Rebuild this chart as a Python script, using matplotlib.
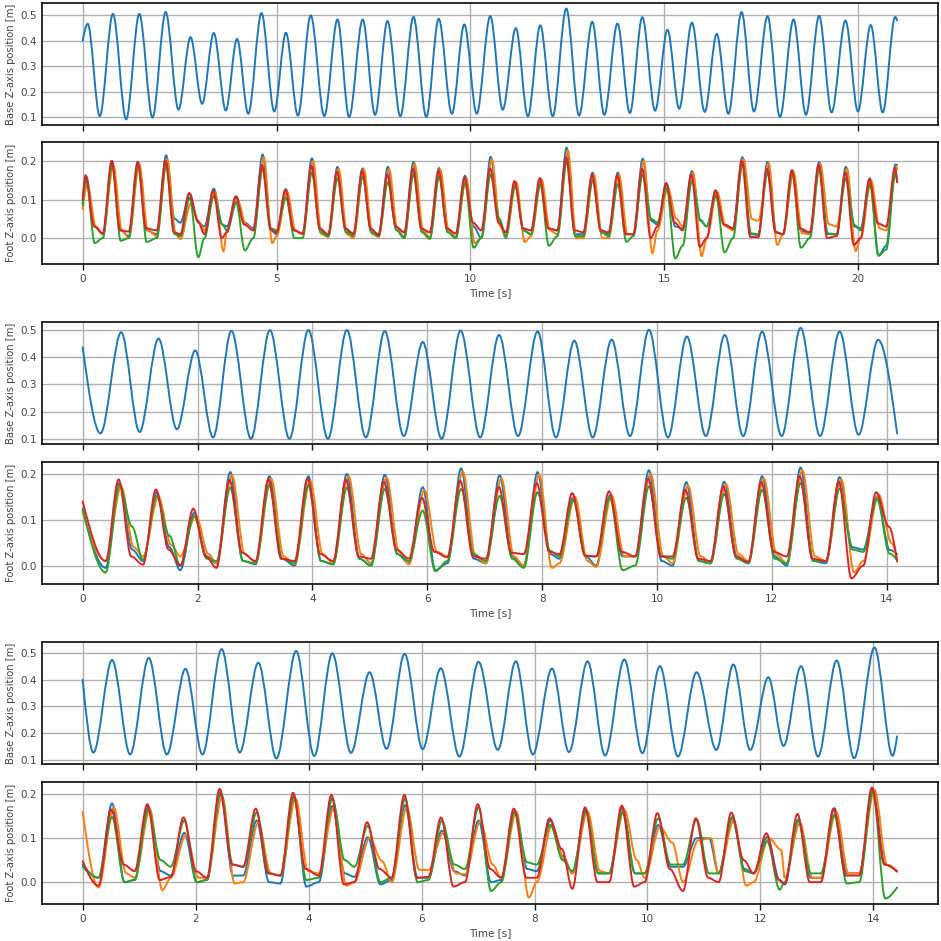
import matplotlib.pyplot as plt
from matplotlib.path import Path
from matplotlib.patches import PathPatch

# ---------------- run 1 (21 s) ----------------
# base height: alternating extrema (time, height)
base1_t = [0.0, 0.13, 0.44, 0.78, 1.12, 1.46, 1.80, 2.14, 2.47, 2.78, 3.08, 3.38, 3.69, 3.98, 4.27, 4.61,
           4.94, 5.24, 5.55, 5.88, 6.23, 6.57, 6.87, 7.22, 7.54, 7.86, 8.19, 8.53, 8.86, 9.18, 9.52, 9.84,
           10.16, 10.51, 10.83, 11.17, 11.48, 11.80, 12.12, 12.47, 12.80, 13.14, 13.45, 13.79, 14.11, 14.43,
           14.76, 15.08, 15.38, 15.71, 16.04, 16.35, 16.65, 16.99, 17.31, 17.66, 17.98, 18.33, 18.65, 18.99,
           19.31, 19.67, 19.99, 20.32, 20.63, 20.95, 21.0]
base1_z = [0.40, 0.466, 0.105, 0.505, 0.092, 0.505, 0.099, 0.512, 0.13, 0.414, 0.153, 0.43, 0.127, 0.407, 0.114,
           0.508, 0.123, 0.431, 0.107, 0.499, 0.105, 0.483, 0.101, 0.483, 0.11, 0.477, 0.104, 0.493, 0.101, 0.486,
           0.114, 0.464, 0.114, 0.496, 0.13, 0.449, 0.104, 0.46, 0.104, 0.526, 0.107, 0.474, 0.11, 0.467, 0.117,
           0.492, 0.126, 0.443, 0.134, 0.471, 0.121, 0.427, 0.114, 0.512, 0.123, 0.496, 0.101, 0.483, 0.11, 0.497,
           0.119, 0.479, 0.123, 0.461, 0.119, 0.493, 0.479]

# foot heights: swing peak times, and per foot the peak height, the level just after
# touchdown and the level just before lift-off
foot1_tp = [0.09, 0.76, 1.43, 2.15, 2.76, 3.38, 3.96, 4.64, 5.24, 5.91, 6.57, 7.22, 7.87, 8.53, 9.19, 9.86,
            10.52, 11.15, 11.80, 12.48, 13.15, 13.80, 14.44, 15.06, 15.71, 16.33, 17.01, 17.66, 18.30, 18.99,
            19.68, 20.30, 20.96]
foot1_end_t = 21.0
foot1_peak = {
    'b': [0.16, 0.20, 0.197, 0.215, 0.115, 0.128, 0.108, 0.217, 0.127, 0.207, 0.185, 0.181, 0.185, 0.198, 0.182,
          0.162, 0.211, 0.145, 0.155, 0.235, 0.17, 0.17, 0.206, 0.14, 0.174, 0.12, 0.21, 0.198, 0.176, 0.197,
          0.185, 0.155, 0.191],
    'o': [0.14, 0.19, 0.192, 0.205, 0.09, 0.12, 0.10, 0.21, 0.12, 0.20, 0.18, 0.178, 0.18, 0.193, 0.178, 0.155,
          0.205, 0.145, 0.152, 0.228, 0.165, 0.165, 0.2, 0.13, 0.17, 0.12, 0.205, 0.195, 0.172, 0.193, 0.18,
          0.15, 0.185],
    'g': [0.15, 0.19, 0.19, 0.19, 0.105, 0.108, 0.092, 0.18, 0.105, 0.17, 0.155, 0.16, 0.145, 0.165, 0.16, 0.143,
          0.165, 0.135, 0.14, 0.198, 0.15, 0.14, 0.165, 0.13, 0.148, 0.11, 0.195, 0.17, 0.168, 0.18, 0.155,
          0.14, 0.17],
    'r': [0.163, 0.20, 0.197, 0.20, 0.117, 0.123, 0.108, 0.19, 0.125, 0.188, 0.172, 0.175, 0.165, 0.18, 0.175,
          0.157, 0.181, 0.148, 0.155, 0.21, 0.165, 0.163, 0.18, 0.143, 0.165, 0.124, 0.2, 0.18, 0.176, 0.19,
          0.17, 0.153, 0.183],
}
foot1_after = {
    'b': [0.03, 0.02, 0.02, 0.05, 0.04, 0.035, 0.04, 0.02, 0.02, 0.02, 0.02, 0.02, 0.025, 0.02, 0.02, 0.03,
          0.05, 0.02, 0.025, 0.01, 0.02, 0.01, 0.045, 0.03, 0.045, 0.035, 0.01, 0.015, 0.02, 0.012, 0.03,
          -0.045, 0.1],
    'o': [0.03, 0.02, 0.02, 0.01, 0.04, -0.035, 0.035, -0.013, 0.02, 0.01, 0.01, 0.01, 0.02, 0.02, 0.02, -0.013,
          0.03, -0.01, 0.02, 0.0, 0.0, 0.01, -0.04, 0.05, -0.047, 0.03, 0.049, -0.018, 0.012, 0.036, -0.034,
          0.025, 0.1],
    'g': [-0.013, -0.007, -0.01, 0.01, -0.05, 0.035, -0.032, 0.025, 0.0, 0.015, 0.015, 0.015, 0.02, 0.015, 0.015,
          -0.025, 0.05, 0.02, -0.02, 0.005, 0.015, -0.01, 0.05, -0.053, 0.047, -0.037, 0.012, 0.015, -0.025, 0.01,
          0.034, -0.046, 0.1],
    'r': [0.03, 0.02, 0.025, 0.015, 0.045, 0.0, 0.035, 0.022, 0.02, 0.025, 0.025, 0.025, 0.03, 0.025, 0.025, 0.04,
          0.04, 0.025, 0.025, 0.02, 0.02, 0.01, 0.0, 0.04, -0.023, 0.035, 0.003, 0.015, 0.025, 0.0, -0.018,
          0.038, 0.1],
}
foot1_before = {
    'b': [0.0, 0.01, 0.005, 0.01, 0.04, 0.03, 0.03, 0.025, 0.01, 0.01, 0.005, 0.005, 0.01, 0.003, 0.0, 0.0, 0.0,
          0.0, 0.01, 0.02, 0.01, 0.01, 0.01, 0.035, 0.025, 0.03, 0.025, 0.008, 0.01, 0.01, 0.01, 0.025, -0.02],
    'o': [0.0, 0.01, 0.0, 0.005, -0.003, 0.02, 0.02, 0.02, 0.005, 0.01, 0.003, 0.0, 0.003, 0.0, 0.002, 0.003, 0.0,
          0.003, 0.005, 0.01, 0.0, 0.0, 0.01, 0.02, 0.03, 0.0, 0.02, 0.045, 0.01, 0.01, 0.03, 0.0, 0.02],
    'g': [0.0, 0.0, 0.0, 0.0, 0.005, 0.0, 0.02, 0.0, 0.02, 0.0, 0.005, 0.008, 0.005, 0.0, -0.002, 0.0, 0.0,
          0.005, 0.01, 0.005, 0.005, 0.005, 0.005, 0.04, -0.02, 0.03, 0.0, 0.01, 0.01, 0.0, 0.01, 0.02, -0.03],
    'r': [0.0, 0.012, 0.017, 0.02, 0.01, 0.01, 0.015, 0.02, 0.015, 0.012, 0.01, 0.012, 0.008, 0.015, 0.015, 0.012,
          0.02, 0.015, 0.02, 0.02, 0.015, 0.015, 0.01, 0.03, 0.02, 0.0, 0.025, 0.002, 0.01, 0.015, 0.005, 0.0,
          0.03],
}
foot1_start = {'b': 0.09, 'o': 0.075, 'g': 0.085, 'r': 0.10}
foot1_end = {'b': 0.19, 'o': 0.178, 'g': 0.145, 'r': 0.145}

# ---------------- run 2 (14.2 s) ----------------
base2_t = [0.0, 0.31, 0.67, 0.99, 1.32, 1.64, 1.96, 2.27, 2.59, 2.93, 3.26, 3.60, 3.93, 4.27, 4.60, 4.93,
           5.26, 5.59, 5.92, 6.25, 6.58, 6.92, 7.25, 7.58, 7.92, 8.24, 8.56, 8.88, 9.21, 9.53, 9.86, 10.19,
           10.52, 10.85, 11.18, 11.50, 11.83, 12.17, 12.50, 12.84, 13.18, 13.51, 13.85, 14.18]
base2_z = [0.435, 0.12, 0.491, 0.125, 0.468, 0.135, 0.424, 0.105, 0.496, 0.10, 0.499, 0.10, 0.499, 0.10, 0.499,
           0.105, 0.495, 0.11, 0.455, 0.10, 0.497, 0.105, 0.481, 0.11, 0.494, 0.105, 0.46, 0.105, 0.464, 0.11,
           0.50, 0.105, 0.475, 0.11, 0.481, 0.11, 0.493, 0.11, 0.507, 0.11, 0.494, 0.115, 0.463, 0.12]

foot2_tp = [0.64, 1.29, 1.94, 2.57, 3.25, 3.93, 4.60, 5.26, 5.92, 6.59, 7.26, 7.92, 8.54, 9.18, 9.86, 10.51,
            11.17, 11.83, 12.50, 13.18, 13.83]
foot2_end_t = 14.18
foot2_peak = {
    'b': [0.18, 0.16, 0.115, 0.204, 0.195, 0.195, 0.20, 0.198, 0.171, 0.212, 0.197, 0.204, 0.148, 0.153, 0.208,
          0.182, 0.183, 0.195, 0.214, 0.193, 0.15],
    'o': [0.173, 0.15, 0.11, 0.197, 0.19, 0.185, 0.195, 0.192, 0.165, 0.205, 0.19, 0.198, 0.15, 0.153, 0.2,
          0.175, 0.178, 0.19, 0.208, 0.188, 0.155],
    'g': [0.175, 0.152, 0.108, 0.17, 0.175, 0.175, 0.17, 0.167, 0.12, 0.167, 0.152, 0.16, 0.143, 0.148, 0.173,
          0.148, 0.156, 0.165, 0.18, 0.168, 0.145],
    'r': [0.188, 0.166, 0.124, 0.187, 0.188, 0.19, 0.187, 0.183, 0.148, 0.185, 0.172, 0.18, 0.158, 0.162, 0.19,
          0.165, 0.172, 0.182, 0.195, 0.183, 0.16],
}
foot2_after = {
    'b': [0.035, 0.04, 0.02, 0.01, 0.015, 0.01, 0.015, 0.025, -0.01, 0.015, 0.02, 0.025, 0.02, 0.02, 0.01, 0.01,
          0.02, 0.02, 0.01, 0.04, 0.034],
    'o': [0.04, 0.045, 0.025, 0.025, 0.02, 0.025, 0.025, 0.03, 0.03, 0.02, 0.02, -0.005, 0.01, 0.02, 0.02, 0.02,
          0.025, 0.025, 0.02, -0.015, 0.05],
    'g': [0.085, 0.065, 0.015, 0.01, 0.015, 0.01, 0.015, 0.025, -0.012, 0.025, 0.015, 0.032, 0.02, -0.01, 0.02,
          0.01, 0.015, 0.015, 0.01, 0.035, 0.026],
    'r': [0.02, 0.035, 0.02, 0.028, 0.015, 0.025, 0.02, 0.035, 0.03, 0.02, 0.028, 0.03, 0.022, 0.03, 0.02, 0.015,
          0.02, 0.03, 0.015, -0.028, 0.085],
}
foot2_before = {
    'b': [-0.005, 0.01, -0.01, 0.005, 0.003, 0.0, 0.003, 0.0, 0.005, 0.005, 0.005, 0.0, 0.015, 0.0, 0.02, 0.0,
          0.005, 0.005, 0.0, 0.005, 0.035],
    'o': [0.01, 0.02, 0.02, 0.005, 0.008, 0.003, 0.005, 0.005, 0.003, 0.02, 0.005, 0.0, 0.005, -0.003, 0.02,
          0.005, 0.008, 0.01, 0.005, 0.01, 0.01],
    'g': [-0.015, 0.012, 0.0, 0.01, 0.005, 0.005, 0.003, 0.0, 0.01, 0.01, 0.01, -0.005, 0.02, 0.02, 0.0, 0.015,
          0.005, 0.005, 0.005, 0.01, 0.03],
    'r': [0.01, 0.002, 0.0, -0.005, 0.01, 0.01, 0.01, 0.015, 0.015, 0.018, 0.015, 0.025, 0.025, 0.02, 0.02, 0.02,
          0.01, 0.008, 0.02, 0.01, 0.0],
}
foot2_start = {'b': 0.12, 'o': 0.115, 'g': 0.125, 'r': 0.14}
foot2_end = {'b': 0.025, 'o': 0.008, 'g': 0.012, 'r': 0.01}

# ---------------- run 3 (14.4 s) ----------------
base3_t = [0.0, 0.19, 0.52, 0.84, 1.17, 1.49, 1.82, 2.12, 2.46, 2.78, 3.11, 3.43, 3.78, 4.10, 4.42, 4.75,
           5.08, 5.38, 5.70, 6.02, 6.34, 6.67, 7.01, 7.35, 7.67, 7.97, 8.31, 8.61, 8.94, 9.25, 9.59, 9.91,
           10.22, 10.54, 10.87, 11.22, 11.52, 11.82, 12.14, 12.41, 12.72, 13.02, 13.35, 13.66, 14.02, 14.34, 14.42]
base3_z = [0.40, 0.126, 0.474, 0.119, 0.482, 0.119, 0.441, 0.119, 0.515, 0.126, 0.464, 0.104, 0.508, 0.113,
           0.499, 0.125, 0.428, 0.14, 0.497, 0.139, 0.443, 0.111, 0.467, 0.136, 0.469, 0.119, 0.442, 0.128,
           0.469, 0.115, 0.476, 0.124, 0.451, 0.111, 0.428, 0.136, 0.457, 0.136, 0.409, 0.151, 0.451, 0.111,
           0.472, 0.105, 0.521, 0.114, 0.187]

foot3_tp = [0.52, 1.16, 1.80, 2.44, 3.08, 3.74, 4.42, 5.05, 5.71, 6.36, 7.01, 7.65, 8.28, 8.91, 9.56, 10.19,
            10.87, 11.50, 12.12, 12.67, 13.31, 13.99]
foot3_end_t = 14.42
foot3_peak = {
    'b': [0.179, 0.172, 0.112, 0.20, 0.14, 0.196, 0.173, 0.102, 0.175, 0.117, 0.14, 0.16, 0.14, 0.165, 0.17,
          0.13, 0.10, 0.145, 0.103, 0.14, 0.168, 0.21],
    'o': [0.17, 0.165, 0.108, 0.195, 0.135, 0.19, 0.17, 0.10, 0.17, 0.113, 0.138, 0.16, 0.13, 0.16, 0.165,
          0.125, 0.095, 0.14, 0.10, 0.135, 0.16, 0.21],
    'g': [0.148, 0.165, 0.14, 0.205, 0.158, 0.193, 0.19, 0.128, 0.19, 0.14, 0.17, 0.16, 0.13, 0.16, 0.158,
          0.145, 0.143, 0.148, 0.093, 0.143, 0.152, 0.205],
    'r': [0.165, 0.177, 0.147, 0.212, 0.167, 0.203, 0.198, 0.136, 0.198, 0.147, 0.177, 0.167, 0.145, 0.17,
          0.174, 0.157, 0.145, 0.158, 0.111, 0.155, 0.167, 0.215],
}
foot3_after = {
    'b': [0.0, 0.025, 0.0, 0.015, 0.0, -0.01, 0.02, -0.005, 0.01, 0.025, 0.0, 0.03, 0.06, 0.02, 0.02, 0.035,
          0.1, 0.03, 0.005, 0.01, 0.02, 0.04],
    'o': [0.02, -0.018, 0.01, -0.003, 0.02, 0.025, -0.008, 0.048, 0.028, 0.02, 0.04, -0.035, 0.05, 0.025, 0.05,
          0.09, 0.1, -0.008, 0.073, 0.01, 0.02, 0.04],
    'g': [0.0, 0.05, 0.0, 0.04, 0.02, 0.005, 0.05, 0.0, 0.0, 0.04, -0.02, 0.045, 0.05, 0.02, 0.02, 0.04, 0.02,
          0.025, -0.017, 0.02, -0.003, -0.037],
    'r': [0.04, 0.005, 0.025, 0.04, 0.02, 0.03, -0.005, 0.03, 0.01, -0.01, 0.03, 0.01, 0.075, 0.0, -0.01, 0.03,
          0.01, 0.05, 0.005, 0.0, 0.015, 0.04],
}
foot3_before = {
    'b': [0.01, 0.005, 0.015, 0.005, 0.015, -0.003, 0.0, 0.012, 0.005, 0.01, 0.015, 0.005, 0.025, 0.02, 0.02,
          0.02, 0.035, 0.02, 0.02, -0.005, 0.01, 0.02],
    'o': [-0.012, 0.01, 0.01, 0.01, 0.0, 0.015, 0.02, 0.0, 0.0, 0.028, 0.018, 0.01, 0.0, 0.02, 0.02, 0.01, 0.0,
          0.02, 0.0, 0.01, 0.01, 0.02],
    'g': [0.01, 0.005, 0.035, 0.005, 0.035, 0.015, 0.01, 0.035, 0.01, 0.005, 0.03, 0.0, 0.04, 0.025, 0.02, 0.02,
          0.04, 0.02, 0.02, 0.0, 0.02, 0.0],
    'r': [-0.008, 0.025, 0.012, 0.01, 0.035, 0.015, 0.015, 0.0, 0.01, 0.012, 0.0, 0.01, 0.01, -0.015, 0.0, 0.0,
          -0.02, 0.0, 0.02, -0.005, 0.0, 0.015],
}
foot3_start = {'b': 0.04, 'o': 0.16, 'g': 0.035, 'r': 0.048}
foot3_end = {'b': 0.025, 'o': 0.025, 'g': -0.012, 'r': 0.024}

feet = ['b', 'o', 'g', 'r']
colors = {'b': '#1f77b4', 'o': '#ff7f0e', 'g': '#2ca02c', 'r': '#d62728'}
lag = {'b': 0.0, 'o': 0.03, 'g': 0.0, 'r': -0.015}
RISE = 0.24
FALL = 0.22


def smooth_line(ax, ts, zs, color):
    # cubic segments with flat tangents at every inner knot; the two open ends keep their slope
    verts = [(ts[0], zs[0])]
    codes = [Path.MOVETO]
    n = len(ts) - 1
    for i in range(n):
        d = (ts[i + 1] - ts[i]) / 3.0
        z_a = zs[i] if i > 0 else zs[i] + (zs[i + 1] - zs[i]) * 0.5
        z_b = zs[i + 1] if i < n - 1 else zs[i + 1] - (zs[i + 1] - zs[i]) * 0.5
        verts += [(ts[i] + d, z_a), (ts[i + 1] - d, z_b), (ts[i + 1], zs[i + 1])]
        codes += [Path.CURVE4] * 3
    ax.add_patch(PathPatch(Path(verts, codes), fill=False, edgecolor=color, lw=1.4,
                           capstyle='round', joinstyle='round'))


def foot_knots(tp, peak, after, before, start, end, t_end, dt):
    ts, zs = [0.0], [start]
    for k in range(len(tp)):
        tb = tp[k] - RISE
        if tb > ts[-1] + 0.05:
            ts.append(tb)
            zs.append(before[k])
        ts.append(tp[k] + dt)
        zs.append(peak[k])
        ta = tp[k] + FALL + dt
        if ta < t_end - 0.05:
            ts.append(ta)
            zs.append(after[k])
    ts.append(t_end)
    zs.append(end)
    return ts, zs


def style(ax, yticks, ylabel):
    ax.set_yticks(yticks)
    ax.grid(True, color='#b0b0b0', lw=1.0)
    ax.set_axisbelow(True)
    for s in ax.spines.values():
        s.set_linewidth(1.3)
        s.set_color('#1a1a1a')
    ax.tick_params(axis='x', direction='out', length=4, width=1.0, color='#1a1a1a',
                   labelsize=7.5, labelcolor='#444444', pad=3)
    ax.tick_params(axis='y', length=0, labelsize=7.5, labelcolor='#444444', pad=4)
    ax.set_ylabel(ylabel, fontsize=7.2, color='#444444', labelpad=3)


plt.rcParams['font.family'] = ['DejaVu Sans']
fig = plt.figure(figsize=(9.41, 9.41), dpi=100)

runs = [
    (base1_t, base1_z, foot1_tp, foot1_peak, foot1_after, foot1_before, foot1_start, foot1_end, foot1_end_t),
    (base2_t, base2_z, foot2_tp, foot2_peak, foot2_after, foot2_before, foot2_start, foot2_end, foot2_end_t),
    (base3_t, base3_z, foot3_tp, foot3_peak, foot3_after, foot3_before, foot3_start, foot3_end, foot3_end_t),
]
# (bottom of base panel, bottom of foot panel) in figure fraction
rows = [(0.8672, 0.7194), (0.5278, 0.3794), (0.1881, 0.0393)]
left, width, height = 0.0446, 0.952, 0.1297

for (bt, bz, tp, peak, after, before, start, end, t_end), (yb, yf) in zip(runs, rows):
    ax_b = fig.add_axes([left, yb, width, height])
    ax_f = fig.add_axes([left, yf, width, height], sharex=ax_b)

    smooth_line(ax_b, bt, bz, colors['b'])
    for f in feet:
        ts, zs = foot_knots(tp, peak[f], after[f], before[f], start[f], end[f], t_end, lag[f])
        smooth_line(ax_f, ts, zs, colors[f])

    ax_b.autoscale_view()
    ax_f.autoscale_view()
    style(ax_b, [0.1, 0.2, 0.3, 0.4, 0.5], 'Base Z-axis position [m]')
    style(ax_f, [0.0, 0.1, 0.2], 'Foot Z-axis position [m]')
    ax_b.tick_params(axis='x', labelbottom=False)
    ax_f.set_xlabel('Time [s]', fontsize=7.5, color='#444444', labelpad=3)

fig.savefig('out.png', dpi=100)
